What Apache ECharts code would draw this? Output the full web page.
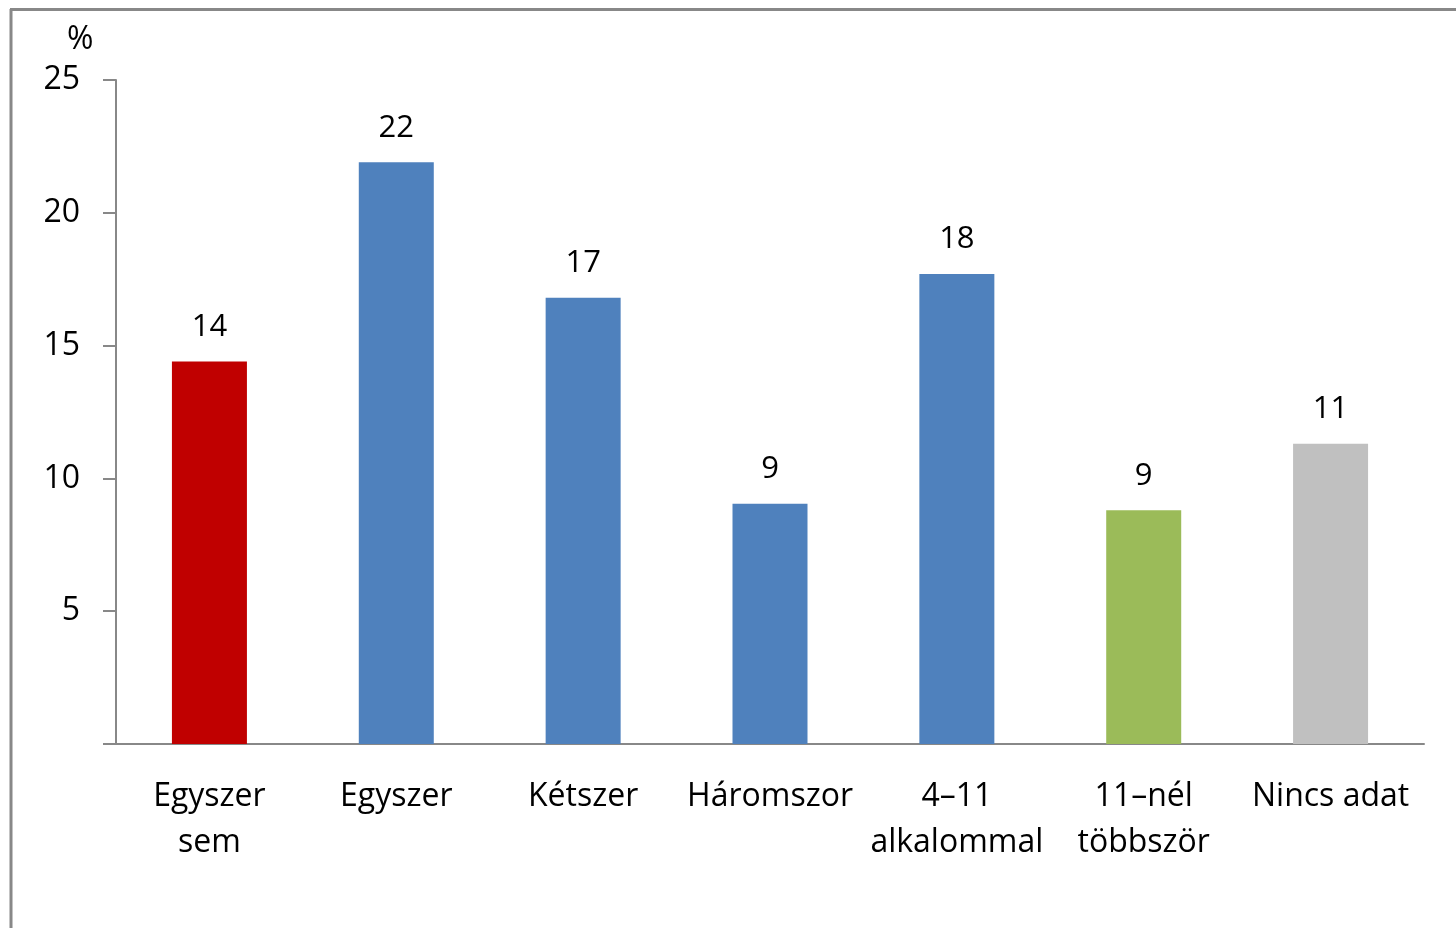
<!DOCTYPE html>
<html>
<head>
<meta charset="utf-8">
<script src="https://cdn.jsdelivr.net/npm/echarts@6/dist/echarts.min.js"></script>
<style>
html,body{margin:0;padding:0;background:#fff;}
#mycharts{width:1456px;height:928px;}
</style>
</head>
<body>
<div id="mycharts"></div>
<script>
// adatok
const categories = ['Egyszer\nsem', 'Egyszer', 'Kétszer', 'Háromszor', '4–11\nalkalommal', '11–nél\ntöbbször', 'Nincs adat'];
const values = [14.4, 21.9, 16.8, 9.05, 17.7, 8.8, 11.3];
const barColors = ['#C00000', '#4F81BD', '#4F81BD', '#4F81BD', '#4F81BD', '#9BBB59', '#C0C0C0'];
const yTicks = [0, 5, 10, 15, 20, 25];

const font = 'Open Sans, Lato, sans-serif';
const chart = echarts.init(document.getElementById('mycharts'));

const option = {
  animation: false,
  backgroundColor: '#fff',
  title: {
    text: '%',
    left: 62,
    top: 19,
    textStyle: {fontFamily: font, fontSize: 32, fontWeight: 'normal', color: '#000'}
  },
  graphic: [
    {type: 'line', shape: {x1: 10, y1: 9.5, x2: 1456, y2: 9.5}, style: {stroke: '#888', lineWidth: 3}},
    {type: 'line', shape: {x1: 11, y1: 9, x2: 11, y2: 928}, style: {stroke: '#888', lineWidth: 3}}
  ],
  grid: {left: 116, right: 32, top: 80, bottom: 184},
  xAxis: {
    type: 'category',
    data: categories,
    axisLine: {lineStyle: {color: '#888', width: 2}},
    axisTick: {show: false},
    axisLabel: {
      interval: 0,
      margin: 30,
      fontFamily: font,
      fontSize: 32,
      lineHeight: 46,
      color: '#000'
    }
  },
  yAxis: {
    type: 'value',
    min: yTicks[0],
    max: yTicks[yTicks.length - 1],
    interval: 5,
    splitLine: {show: false},
    axisLine: {show: true, lineStyle: {color: '#888', width: 2}},
    axisTick: {show: true, length: 13, lineStyle: {color: '#888', width: 2}},
    axisLabel: {
      margin: 36,
      fontFamily: font,
      fontSize: 32,
      color: '#000',
      formatter: v => (v === 0 ? '' : v)
    }
  },
  series: [{
    type: 'bar',
    barWidth: 75,
    data: values.map((v, i) => ({value: v, itemStyle: {color: barColors[i]}})),
    label: {
      show: true,
      position: 'top',
      distance: 19,
      fontFamily: font,
      fontSize: 31,
      color: '#000',
      formatter: p => Math.round(p.value)
    }
  }]
};
chart.setOption(option);
</script>
</body>
</html>
